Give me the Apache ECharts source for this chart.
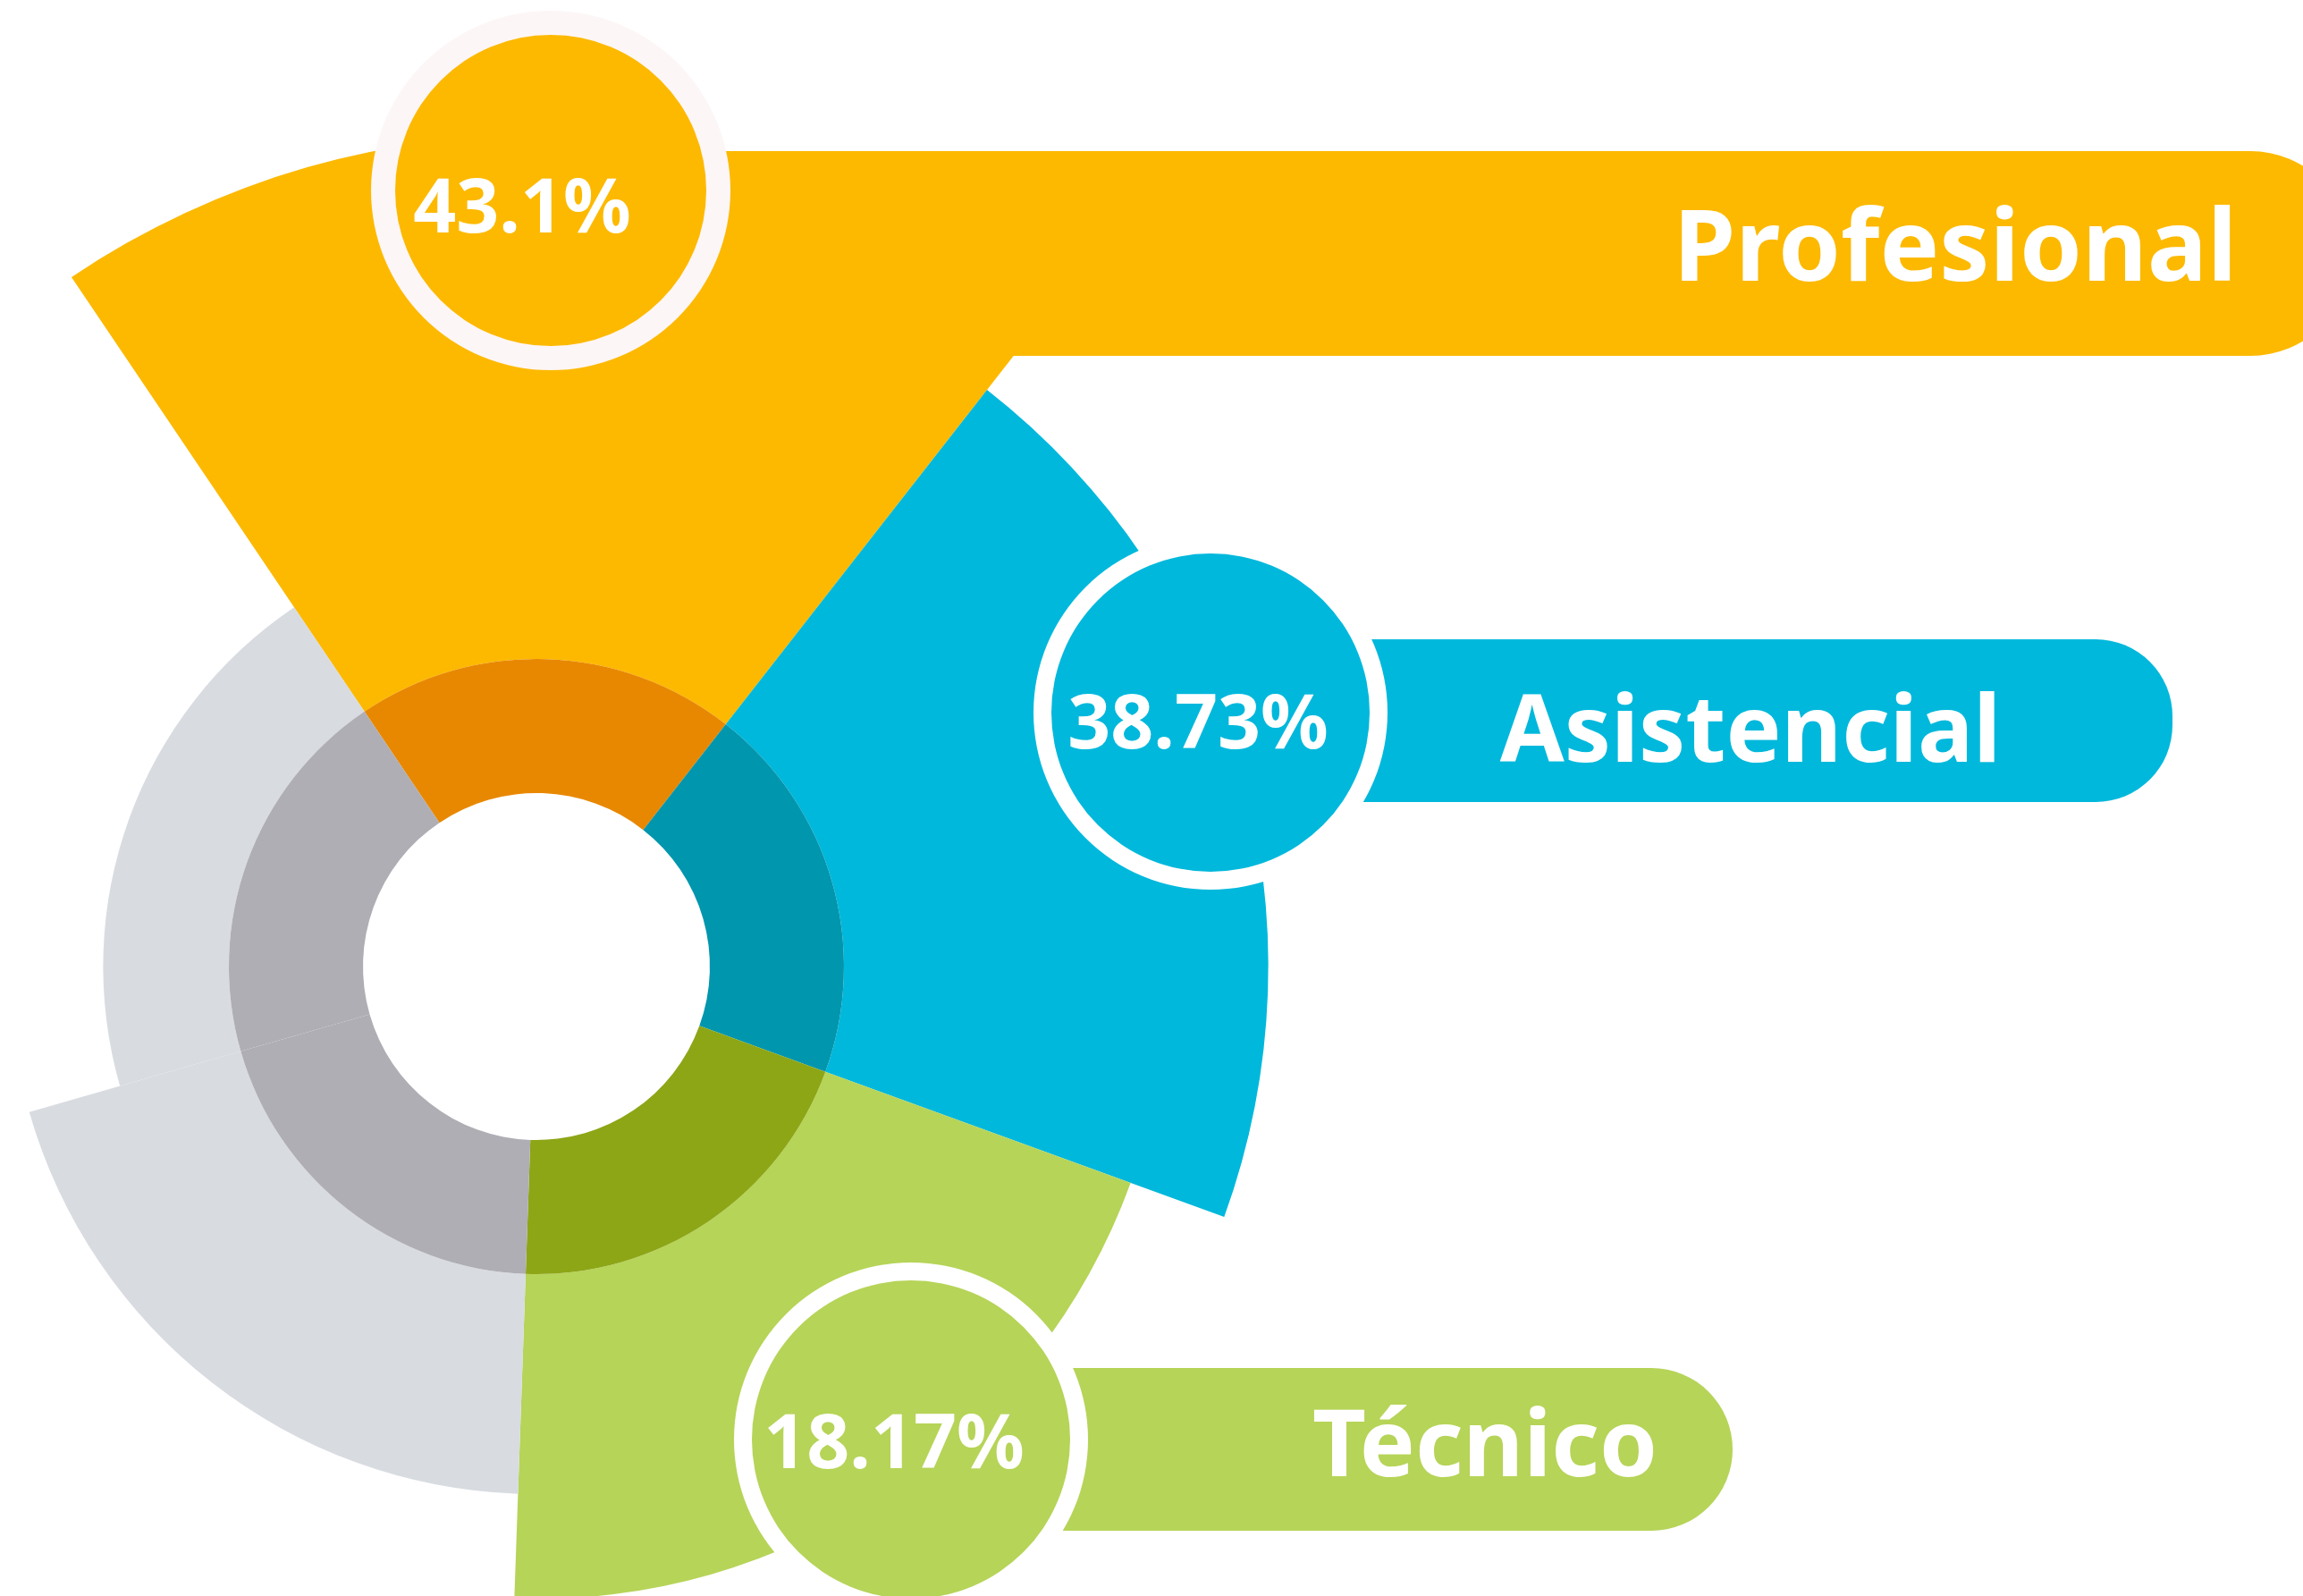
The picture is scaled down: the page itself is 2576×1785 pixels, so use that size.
<!DOCTYPE html>
<html>
<head>
<meta charset="utf-8">
<title>Distribución por tipo de cargo</title>
<script src="https://cdn.jsdelivr.net/npm/echarts@6/dist/echarts.min.js"></script>
<style>
    html, body { margin: 0; padding: 0; background: #ffffff; }
    #chart { width: 2576px; height: 1785px; }
</style>
</head>
<body>
<div id="chart"></div>
<script>
(function () {

    'use strict';

    // categories shown in the bubbles / tabs
    var categories = ['Profesional', 'Asistencial', 'Técnico'];
    var shares = [43.1, 38.73, 18.17];
    var shareLabels = ['43.1%', '38.73%', '18.17%'];

    // the wheel: five equal slices, last two are grey fillers
    var sliceNames = ['Profesional', 'Asistencial', 'Técnico', 'resto-1', 'resto-2'];
    var sliceAngleShare = [20, 20, 20, 20, 20];
    // how far each outer petal reaches (relative, biggest = 100)
    var petalReach = [100, 81, 62, 42, 24];

    var outerColors = ['#FDB900', '#00B8DC', '#B6D458', '#D8DBE0', '#D8DBE0'];
    var innerColors = ['#E88800', '#0096AE', '#8DA616', '#AFAEB4', '#AFAEB4'];
    var ringColors = ['#FDF6F6', '#FFFFFF', '#FFFFFF'];

    var chart = echarts.init(document.getElementById('chart'), null, {renderer: 'canvas'});

    var CX = 600, CY = 1081;

    // bubble + tab layout per category
    var layout = [
        {bx: 616, by: 213, ro: 201, ri: 174, tx: 584, ty: 236, ls: 112,
            bar: {x: 760, y: 169, w: 1871, h: 229, r: 114}, lx: 2187, ly: 282},
        {bx: 1354, by: 797, ro: 198, ri: 178, tx: 1340, ty: 813, ls: 104,
            bar: {x: 1400, y: 715, w: 1030, h: 182, r: 86}, lx: 1958, ly: 822},
        {bx: 1019, by: 1610, ro: 198, ri: 178, tx: 1000, ty: 1618, ls: 104,
            bar: {x: 1100, y: 1530, w: 838, h: 182, r: 91}, lx: 1661, ly: 1621}
    ];

    var graphics = [];
    for (var i = 0; i < categories.length; i++) {
        var l = layout[i];
        graphics.push({
            type: 'rect', z: 100, silent: true,
            shape: {x: l.bar.x, y: l.bar.y, width: l.bar.w, height: l.bar.h, r: [0, l.bar.r, l.bar.r, 0]},
            style: {fill: outerColors[i]}
        });
        graphics.push({
            type: 'circle', z: 101, silent: true,
            shape: {cx: l.bx, cy: l.by, r: l.ro},
            style: {fill: ringColors[i]}
        });
        graphics.push({
            type: 'circle', z: 102, silent: true,
            shape: {cx: l.bx, cy: l.by, r: l.ri},
            style: {fill: outerColors[i]}
        });
        graphics.push({
            type: 'text', z: 103, silent: true,
            style: {
                x: l.tx, y: l.ty,
                text: shareLabels[i],
                fill: '#ffffff',
                font: 'bold 84px "Noto Sans"',
                textAlign: 'center',
                textVerticalAlign: 'middle'
            }
        });
        graphics.push({
            type: 'text', z: 103, silent: true,
            style: {
                x: l.lx, y: l.ly,
                text: categories[i],
                fill: '#ffffff',
                font: 'bold ' + l.ls + 'px "Noto Sans"',
                textAlign: 'center',
                textVerticalAlign: 'middle'
            }
        });
    }

    var outerData = [];
    var innerData = [];
    for (var k = 0; k < sliceNames.length; k++) {
        outerData.push({name: sliceNames[k], value: petalReach[k], itemStyle: {color: outerColors[k]}});
        innerData.push({name: sliceNames[k], value: sliceAngleShare[k], itemStyle: {color: innerColors[k]}});
    }

    var option = {
        backgroundColor: '#ffffff',
        animation: false,
        tooltip: {show: false},
        series: [{
            type: 'pie',
            name: 'petals',
            roseType: 'area',
            center: [CX, CY],
            radius: [344, 930],
            startAngle: 124,
            clockwise: true,
            silent: true,
            label: {show: false},
            labelLine: {show: false},
            data: outerData,
            z: 2
        }, {
            type: 'pie',
            name: 'ring',
            center: [CX, CY],
            radius: [194, 344],
            startAngle: 124,
            clockwise: true,
            silent: true,
            label: {show: false},
            labelLine: {show: false},
            data: innerData,
            z: 3
        }],
        graphic: graphics
    };

    chart.setOption(option);
}) ();
</script>
</body>
</html>
